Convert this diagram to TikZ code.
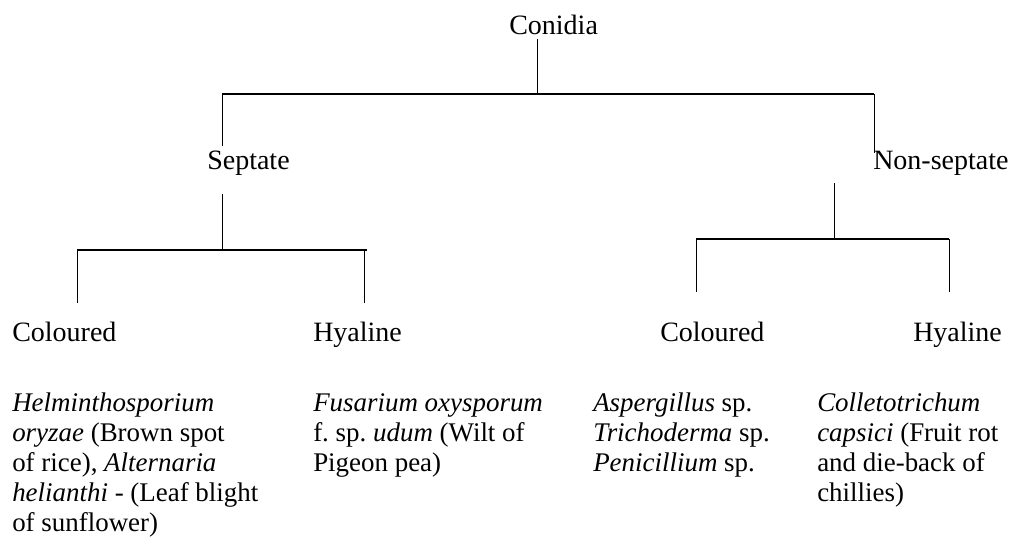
\documentclass[tikz,border=0pt]{standalone}
\usepackage{fontspec}
\setmainfont{Liberation Serif}
\usetikzlibrary{positioning,calc}

\begin{document}
\begin{tikzpicture}[x=0.75pt,y=-0.75pt,
    label/.style={inner sep=0pt, anchor=base west, font=\fontsize{21}{22.5}\selectfont},
    example/.style={inner sep=0pt, anchor=north west, align=left, font=\fontsize{20.2}{22.5}\selectfont},
    branch/.style={line width=0.7pt},
    bar/.style={line width=1.1pt}]
    \useasboundingbox (0,0) rectangle (1014,558);

    % Top of the key
    \node[label] (conidia) at (509,34.5) {Conidia};
    \node[label] (septate) at (207,169) {Septate};
    \node[label] (nonsep) at (873,169) {Non-septate};

    % Second level
    \node[label] (colL) at (12,341) {Coloured};
    \node[label] (hyaL) at (313,341) {Hyaline};
    \node[label] (colR) at (660,341) {Coloured};
    \node[label] (hyaR) at (913,341) {Hyaline};

    % Examples
    \node[example] (exColL) at (12,393) {\textit{Helminthosporium}\\\textit{oryzae} (Brown spot\\of rice), \textit{Alternaria}\\\textit{helianthi} - (Leaf blight\\of sunflower)};
    \node[example] (exHyaL) at (313,393) {\textit{Fusarium oxysporum}\\f.\ sp.\ \textit{udum} (Wilt of\\Pigeon pea)};
    \node[example] (exColR) at (593,393) {\textit{Aspergillus} sp.\\\textit{Trichoderma} sp.\\\textit{Penicillium} sp.};
    \node[example] (exHyaR) at (817,393) {\textit{Colletotrichum}\\\textit{capsici} (Fruit rot\\and die-back of\\chillies)};

    % Conidia split
    \coordinate (rootBar) at (537,94);
    \coordinate (sepJoin) at (222,94);
    \coordinate (nonJoin) at (874,94);
    \draw[branch] ($(rootBar |- conidia.south)+(0,4)$) -- (rootBar);
    \draw[bar] (sepJoin) -- (nonJoin);
    \draw[branch] (sepJoin) -- ($(sepJoin |- septate.north)+(0,-4)$);
    \draw[branch] (nonJoin) -- ($(nonJoin |- nonsep.north)+(0,3)$);

    % Septate split
    \coordinate (sepBar) at (222,250);
    \coordinate (colLJoin) at (77,250);
    \coordinate (hyaLJoin) at (364,250);
    \draw[branch] ($(sepBar |- septate.south)+(0,19)$) -- (sepBar);
    \draw[bar] (colLJoin) -- ($(hyaLJoin)+(3,0)$);
    \draw[branch] (colLJoin) -- ($(colLJoin |- colL.north)+(0,-18)$);
    \draw[branch] (hyaLJoin) -- ($(hyaLJoin |- hyaL.north)+(0,-18)$);

    % Non-septate split
    \coordinate (nonBar) at (834,239);
    \coordinate (colRJoin) at (696,239);
    \coordinate (hyaRJoin) at (949,239);
    \draw[branch] ($(nonBar |- nonsep.south)+(0,8)$) -- (nonBar);
    \draw[bar] (colRJoin) -- (hyaRJoin);
    \draw[branch] (colRJoin) -- ($(colRJoin |- colR.north)+(0,-29)$);
    \draw[branch] (hyaRJoin) -- ($(hyaRJoin |- hyaR.north)+(0,-29)$);
\end{tikzpicture}
\end{document}
